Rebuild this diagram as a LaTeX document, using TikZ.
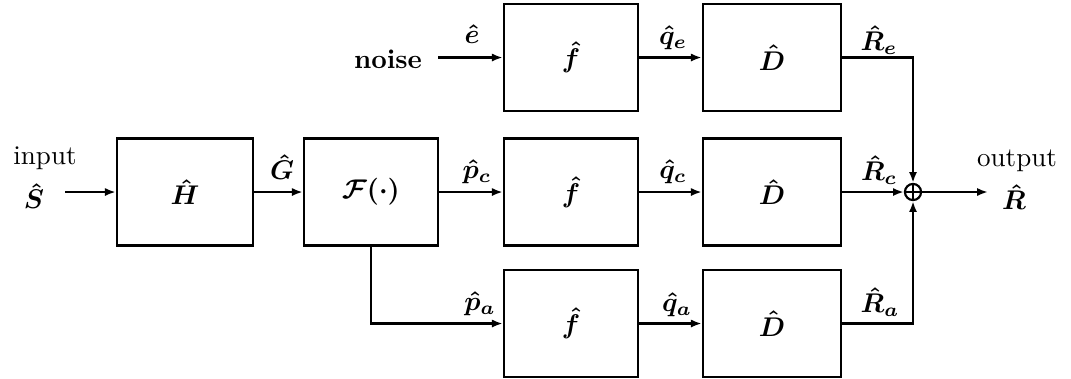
\documentclass[tikz,border=0pt]{standalone}
\usetikzlibrary{arrows.meta}
\begin{document}
\begin{tikzpicture}[x=0.013cm,y=-0.013cm,
  blk/.style={draw, line width=0.9pt, minimum height=1.391cm, inner sep=0pt},
  fblk/.style={blk, minimum width=1.742cm},
  dblk/.style={blk, minimum width=1.794cm},
  sig/.style={line width=0.8pt, -{Latex[length=4pt,width=3pt]}},
  wire/.style={line width=0.8pt},
  lab/.style={inner sep=0pt, font=\boldmath}]
\useasboundingbox (0,0) rectangle (1071,378);
% blocks
\node[blk, minimum width=1.768cm, font=\boldmath] (H) at (185,192) {$\hat H$};
\node[fblk, font=\boldmath] (F) at (371,192) {$\mathcal{F}(\cdot)$};
\node[fblk, font=\boldmath] (ft) at (571,57.5) {$\hat f$};
\node[fblk, font=\boldmath] (fm) at (571,192) {$\hat f$};
\node[fblk, font=\boldmath] (fb) at (571,323.5) {$\hat f$};
\node[dblk, font=\boldmath] (Dt) at (772,57.5) {$\hat D$};
\node[dblk, font=\boldmath] (Dm) at (772,192) {$\hat D$};
\node[dblk, font=\boldmath] (Db) at (772,323.5) {$\hat D$};
\node[draw, circle, line width=0.8pt, minimum size=0.21cm, inner sep=0pt] (sum) at (913,192) {};
\draw[line width=0.6pt] (sum.north) -- (sum.south);
\draw[line width=0.6pt] (sum.west) -- (sum.east);
% free ends
\coordinate (in) at (65,192);
\coordinate (nz) at (438,57.5);
\coordinate (out) at (988,192);
% texts
\node[inner sep=0pt] (tin) at (45,158) {input};
\node[lab] (tS) at (34,196) {$\hat S$};
\node[inner sep=0pt] (tnoise) at (388,59) {\textbf{noise}};
\node[inner sep=0pt] (tout) at (1017,161) {output};
\node[lab] (tR) at (1014,197) {$\hat R$};
\node[lab] (tG) at (282,167) {$\hat G$};
\node[lab] (te) at (472,34) {$\hat e$};
\node[lab] (tpc) at (477,172) {$\hat p_c$};
\node[lab] (tpa) at (480,304) {$\hat p_a$};
\node[lab] (tqe) at (673,38) {$\hat q_e$};
\node[lab] (tqc) at (673,172) {$\hat q_c$};
\node[lab] (tqa) at (677,305) {$\hat q_a$};
\node[lab] (tRe) at (879,40) {$\hat R_e$};
\node[lab] (tRc) at (879,170) {$\hat R_c$};
\node[lab] (tRa) at (880,302) {$\hat R_a$};
% connectors
\draw[sig] (in) -- (H.west);
\draw[sig] (H.east) -- (F.west);
\draw[sig] (F.east) -- (fm.west);
\draw[sig] (F.south) |- (fb.west);
\draw[sig] (nz) -- (ft.west);
\draw[sig] (ft.east) -- (Dt.west);
\draw[sig] (fm.east) -- (Dm.west);
\draw[sig] (fb.east) -- (Db.west);
\draw[sig] (Dt.east) -| (sum.north);
\draw[sig] (Dm.east) -- (sum.west);
\draw[sig] (Db.east) -| (sum.south);
\draw[sig] (sum.east) -- (out);
\end{tikzpicture}
\end{document}
